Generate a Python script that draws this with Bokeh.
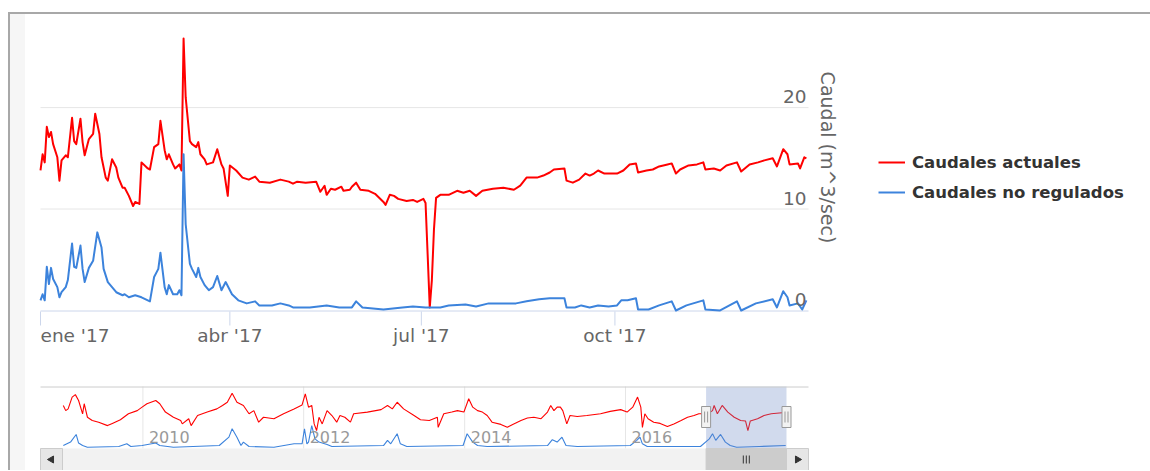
import math
import pandas as pd
from bokeh.plotting import figure
from bokeh.models import Range1d, Label, Legend, LegendItem
from bokeh.layouts import column
from bokeh.embed import file_html
from bokeh.resources import INLINE

# ---------------- data ----------------
base_date = "2017-01-01"
red_days = [0, 1, 2, 3, 4, 5, 6, 8, 9, 10, 12, 13, 15, 16, 17, 19, 20, 21, 23, 25, 26, 28, 29, 31, 32, 34, 36, 37, 39, 40,
            42, 44, 45, 47, 48, 51, 52, 54, 56, 57, 59, 60, 61, 63, 64, 66, 67, 68, 69, 71, 72, 74, 75, 76, 78, 79, 82, 84, 86, 87,
            89, 90, 93, 96, 99, 102, 104, 109, 114, 118, 120, 122, 126, 131, 133, 135, 136, 138, 140, 143, 144, 147, 148, 150, 152, 156, 159, 163, 164, 166,
            168, 170, 174, 177, 179, 182, 183, 184, 185, 186, 187, 188, 190, 194, 198, 201, 204, 207, 210, 215, 220, 225, 228, 231, 236, 239, 242, 244, 249, 250,
            253, 256, 259, 261, 263, 265, 268, 271, 274, 277, 280, 283, 284, 288, 291, 294, 298, 300, 302, 304, 308, 312, 315, 316, 320, 323, 326, 331, 333, 337,
            341, 344, 348, 350, 353, 355, 356, 360, 361, 363, 364]
red_vals = [13.8, 15.4, 14.6, 18.1, 17.1, 17.6, 16.4, 15.1, 12.8, 14.8, 15.3, 15.1, 19.0, 16.7, 16.4, 18.9, 16.6, 15.3, 16.9, 17.4, 19.4, 17.4, 15.1, 13.1, 12.8, 14.9, 14.1, 13.1, 12.1, 12.1,
            11.3, 10.3, 10.7, 10.5, 14.6, 14.0, 13.9, 16.1, 16.4, 18.7, 15.8, 14.9, 15.4, 14.4, 14.0, 14.4, 13.8, 26.8, 21.0, 16.7, 16.4, 16.1, 16.6, 15.4, 14.9, 14.4, 14.6, 15.9, 14.4, 14.0,
            11.3, 14.3, 13.8, 13.1, 12.9, 13.2, 12.7, 12.6, 12.9, 12.7, 12.5, 12.7, 12.6, 12.7, 11.7, 12.3, 11.4, 12.0, 11.9, 12.2, 11.8, 11.9, 12.2, 12.6, 11.9, 11.8, 11.5, 10.7, 10.4, 11.4,
            11.3, 11.0, 10.8, 10.9, 10.7, 11.0, 10.6, 5.5, 0.3, 3.0, 8.0, 11.1, 11.4, 11.4, 11.8, 11.6, 11.8, 11.3, 11.8, 12.0, 12.1, 11.9, 12.3, 13.1, 13.1, 13.3, 13.6, 13.9, 14.0, 12.8,
            12.6, 12.9, 13.5, 13.3, 13.5, 13.8, 13.5, 13.5, 13.5, 13.8, 14.4, 14.5, 13.6, 13.8, 13.9, 14.2, 14.4, 14.5, 13.5, 13.9, 14.3, 14.4, 14.6, 13.9, 14.0, 13.8, 14.3, 14.6, 13.7, 14.4,
            14.6, 14.8, 15.0, 14.2, 15.9, 15.4, 14.4, 14.5, 14.0, 15.1, 15.0]

blue_days = [0, 1, 2, 3, 4, 5, 6, 8, 9, 10, 12, 13, 15, 16, 17, 19, 20, 21, 23, 25, 27, 29, 30, 32, 34, 36, 39, 40, 42, 45,
             48, 52, 54, 56, 57, 59, 60, 61, 63, 65, 66, 67, 68, 69, 71, 72, 74, 75, 76, 78, 80, 82, 84, 86, 88, 91, 94, 98, 102, 104,
             110, 114, 118, 120, 128, 136, 142, 148, 150, 153, 163, 172, 177, 183, 190, 194, 202, 207, 213, 220, 226, 231, 237, 242, 249, 250, 254, 257, 261, 265,
             270, 274, 276, 279, 283, 284, 289, 294, 300, 302, 307, 315, 316, 323, 331, 333, 340, 348, 350, 353, 355, 356, 360, 362, 364]
blue_vals = [1.0, 1.6, 1.0, 4.3, 2.6, 4.2, 3.1, 2.3, 1.3, 1.8, 2.3, 3.0, 6.6, 4.3, 4.2, 6.4, 4.1, 2.8, 4.2, 4.9, 7.7, 6.2, 4.1, 2.8, 2.3, 1.8, 1.5, 1.6, 1.3, 1.5,
             1.3, 0.9, 3.3, 4.1, 5.7, 2.3, 1.6, 2.5, 1.6, 1.6, 2.0, 1.5, 15.4, 8.5, 4.6, 4.1, 3.3, 4.2, 3.3, 2.5, 2.0, 2.3, 3.4, 2.0, 2.8, 1.6, 1.0, 0.7, 0.9, 0.5,
             0.5, 0.7, 0.5, 0.3, 0.3, 0.5, 0.3, 0.3, 0.9, 0.3, 0.1, 0.3, 0.4, 0.3, 0.3, 0.5, 0.6, 0.4, 0.7, 0.7, 0.7, 0.9, 1.1, 1.2, 1.2, 0.3, 0.3, 0.5, 0.3, 0.5,
             0.4, 0.5, 1.0, 1.0, 1.2, 0.1, 0.1, 0.5, 0.9, 0.0, 0.5, 1.0, 0.1, 0.0, 0.9, 0.0, 0.7, 1.1, 0.3, 1.9, 1.3, 0.5, 0.7, 0.1, 1.0]

series_names = ["Caudales actuales", "Caudales no regulados"]
axis_title = "Caudal (m^3/sec)"
month_ticks = ["2017-01-01", "2017-04-01", "2017-07-01", "2017-10-01"]
month_labels = ["ene '17", "abr '17", "jul '17", "oct '17"]
y_ticks = [0, 10, 20]
y_labels = ["0", "10", "20"]

# navigator (grouped overview 2009-2017), decimal years
nav_red_years = [2009.01, 2009.04, 2009.07, 2009.12, 2009.16, 2009.20, 2009.25, 2009.27, 2009.31, 2009.37, 2009.45, 2009.56, 2009.62, 2009.72, 2009.82, 2009.93, 2009.99,
                 2010.05, 2010.16, 2010.21, 2010.28, 2010.38, 2010.47, 2010.49, 2010.57, 2010.60, 2010.68, 2010.80, 2010.92, 2010.99,
                 2011.05, 2011.11, 2011.17, 2011.25, 2011.32, 2011.38, 2011.44, 2011.50, 2011.63, 2011.75, 2011.88, 2011.98,
                 2012.02, 2012.06, 2012.10, 2012.13, 2012.16, 2012.19, 2012.23, 2012.29, 2012.35, 2012.41, 2012.45, 2012.51, 2012.58, 2012.62, 2012.79, 2012.96,
                 2013.04, 2013.10, 2013.16, 2013.24, 2013.37, 2013.45, 2013.56, 2013.66, 2013.67, 2013.74, 2013.84, 2013.91, 2013.99,
                 2014.05, 2014.10, 2014.16, 2014.22, 2014.28, 2014.34, 2014.45, 2014.53, 2014.61, 2014.70, 2014.78, 2014.86, 2014.95,
                 2015.03, 2015.07, 2015.11, 2015.15, 2015.19, 2015.22, 2015.27, 2015.31, 2015.40, 2015.52, 2015.69, 2015.81, 2015.94,
                 2016.02, 2016.09, 2016.15, 2016.19, 2016.21, 2016.24, 2016.28, 2016.35, 2016.43, 2016.52, 2016.60, 2016.69, 2016.77, 2016.85, 2016.91,
                 2017.02, 2017.08, 2017.10, 2017.14, 2017.20, 2017.27, 2017.35, 2017.43, 2017.49, 2017.52, 2017.55, 2017.64, 2017.72, 2017.81, 2017.91, 2017.99]
nav_red_vals = [17.3, 15.2, 15.9, 20.7, 21.7, 19.3, 13.9, 18.0, 12.5, 11.2, 10.5, 9.1, 10.0, 11.5, 13.9, 15.2, 16.6,
                18.0, 19.3, 18.0, 14.6, 12.5, 11.2, 9.8, 11.9, 9.1, 13.2, 14.6, 15.9, 17.3,
                18.6, 22.3, 18.6, 17.3, 13.9, 15.2, 10.5, 12.5, 11.9, 13.9, 15.9, 17.5,
                22.0, 16.6, 17.3, 9.8, 7.1, 12.5, 9.8, 15.2, 13.2, 10.5, 13.2, 12.5, 10.5, 13.9, 14.6, 15.6,
                17.3, 15.9, 18.6, 15.9, 13.2, 11.5, 11.2, 12.5, 8.4, 13.9, 14.6, 15.2, 14.6,
                20.0, 16.6, 15.2, 14.6, 13.2, 10.5, 9.6, 8.4, 9.8, 11.2, 12.2, 12.5, 11.9,
                14.6, 17.3, 15.2, 16.6, 16.6, 15.2, 9.8, 13.2, 12.8, 13.2, 13.9, 14.9, 15.6,
                14.6, 16.6, 20.7, 16.6, 8.4, 13.9, 11.9, 10.5, 10.0, 8.7, 9.8, 11.2, 12.5, 13.2, 13.9,
                13.9, 15.2, 17.3, 13.9, 17.3, 14.6, 12.5, 11.2, 11.0, 7.1, 11.0, 11.9, 13.2, 13.9, 14.2, 14.4]
nav_blue_years = [2009.01, 2009.10, 2009.17, 2009.20, 2009.25, 2009.31, 2009.70, 2009.80, 2009.85, 2009.99,
                  2010.16, 2010.21, 2010.38, 2010.95, 2011.07, 2011.11, 2011.17, 2011.22, 2011.25, 2011.32, 2011.63, 2011.88, 2011.98,
                  2012.01, 2012.04, 2012.06, 2012.10, 2012.14, 2012.19, 2012.29, 2012.35, 2012.99,
                  2013.04, 2013.08, 2013.16, 2013.20, 2013.28, 2013.98, 2014.03, 2014.10, 2014.16, 2014.28,
                  2015.03, 2015.09, 2015.15, 2015.21, 2015.26, 2015.40, 2016.06, 2016.14, 2016.18, 2016.21, 2016.27, 2016.93,
                  2017.04, 2017.08, 2017.12, 2017.18, 2017.24, 2017.30, 2017.38, 2017.66, 2017.99]
nav_blue_vals = [1.0, 2.4, 5.5, 2.0, 1.0, 0.3, 0.6, 1.7, 0.6, 1.0,
                 2.0, 1.0, 0.3, 1.0, 4.4, 7.8, 4.4, 1.0, 2.4, 0.6, 0.3, 1.7, 1.7,
                 7.8, 1.7, 2.4, 9.1, 3.7, 2.4, 1.4, 0.6, 1.0,
                 3.1, 1.7, 5.8, 1.7, 0.6, 1.0, 5.8, 2.4, 1.0, 0.6,
                 1.0, 3.4, 2.4, 4.4, 1.0, 0.6, 1.0, 3.1, 4.4, 1.7, 0.6, 0.6,
                 3.7, 5.8, 3.1, 5.5, 2.4, 1.0, 0.3, 0.6, 1.0]
nav_years = ["2010-01-01", "2012-01-01", "2014-01-01", "2016-01-01"]
nav_year_labels = ["2010", "2012", "2014", "2016"]
nav_start, nav_end = "2009-01-01", "2018-01-01"
sel_start, sel_end = "2017-01-01", "2018-01-01"

# ---------------- helpers ----------------
def ms(d):
    return pd.Timestamp(d).value / 1e6

def dec_year(y):
    yr = int(y)
    a = pd.Timestamp(f"{yr}-01-01")
    b = pd.Timestamp(f"{yr + 1}-01-01")
    return (a + (b - a) * (y - yr)).value / 1e6

day_ms = 86400000.0
T0 = ms(base_date)
T1 = ms("2018-01-01")
red_x = [T0 + d * day_ms for d in red_days]
blue_x = [T0 + d * day_ms for d in blue_days]

FONT = "DejaVu Sans"
RED = "#ff0000"
BLUE = "#3c83dc"
GRID = "#e6e6e6"
AXIS = "#ccd6eb"

# page geometry (the whole canvas is the frame; positions in page pixels)
CX, CY = 10, 14          # top-left of the first canvas on the page
W = 1140
H1 = 366
H2 = 90
FR_L, FR_R, FR_T, FR_B = 40, 808, 30, 311     # plot area of the main chart

# ---------------- main chart ----------------
mpp = (T1 - T0) / (FR_R - FR_L)               # ms per pixel
Y0, Y1 = -0.1, 27.6
ppu = (FR_B - FR_T) / (Y1 - Y0)

def main_x(px):
    return T0 + (px - FR_L) * mpp

def main_y(py):
    return Y0 + (FR_B - py) / ppu

def main_py(v):
    return FR_B - (v - Y0) * ppu

p = figure(width=W, height=H1, x_axis_type="datetime",
           x_range=Range1d(main_x(CX), main_x(CX + W)), y_range=Range1d(main_y(CY + H1), main_y(CY)),
           x_axis_location=None, y_axis_location=None, output_backend="svg", toolbar_location=None,
           min_border=0, min_border_left=0, min_border_right=0, min_border_top=0, min_border_bottom=0)
p.border_fill_color = None
p.background_fill_color = None
p.outline_line_color = None
p.grid.visible = False

# plot-area background, gridlines, axis line and ticks
p.quad(left=[T0], right=[T1], bottom=[main_y(FR_B)], top=[main_y(FR_T - 16)], fill_color="white", line_color=None)
gy = [t for t in y_ticks if t > 0]
p.segment(x0=[T0] * len(gy), x1=[T1] * len(gy), y0=gy, y1=gy, line_color=GRID, line_width=1)
tick_x = [ms(d) for d in month_ticks]
p.segment(x0=tick_x, x1=tick_x, y0=[main_y(FR_B)] * 4, y1=[main_y(FR_B + 14)] * 4, line_color=AXIS, line_width=1)
p.segment(x0=[T0], x1=[T1], y0=[main_y(FR_B - 0.5)], y1=[main_y(FR_B - 0.5)], line_color=AXIS, line_width=1)

r_red = p.line(red_x, red_vals, line_color=RED, line_width=2, line_join="round")
r_blue = p.line(blue_x, blue_vals, line_color=BLUE, line_width=2, line_join="round")

for tx, lab, al in zip(tick_x, month_labels, ["left", "center", "center", "center"]):
    p.add_layout(Label(x=tx, y=main_y(335), text=lab, text_align=al, text_baseline="middle",
                       text_font=FONT, text_font_size="18.5px", text_color="#666666"))

for v, lab in zip(y_ticks, y_labels):
    p.add_layout(Label(x=T1 - 2 * mpp, y=main_y(main_py(v) - 11), text=lab, text_align="right",
                       text_baseline="middle", text_font=FONT, text_font_size="18.5px", text_color="#666666"))

p.add_layout(Label(x=main_x(827), y=main_y(157), text=axis_title, angle=-math.pi / 2,
                   text_align="center", text_baseline="middle", text_font=FONT,
                   text_font_size="19px", text_color="#666666"))

legend = Legend(items=[LegendItem(label=series_names[0], renderers=[r_red]),
                       LegendItem(label=series_names[1], renderers=[r_blue])],
                location=(878 - CX, (CY + H1) - 202), orientation="vertical",
                padding=0, margin=0, spacing=10, glyph_width=27, glyph_height=20,
                label_height=20, label_standoff=7,
                label_text_font=FONT, label_text_font_size="16.5px", label_text_font_style="bold",
                label_text_color="#333333", border_line_color=None, background_fill_alpha=0)
p.add_layout(legend)

# ---------------- navigator + scrollbar ----------------
NCY = CY + H1                          # page y of the navigator canvas top
N0, N1 = ms(nav_start), ms(nav_end)
NL, NR = 62, 786                       # page px of navigator data span
nmpp = (N1 - N0) / (NR - NL)
NZERO, NPPU = 447.5, 2.46
NTOP, NBOTTOM = 386, 448               # navigator area
SB_T, SB_B = 448, NCY + H2             # scrollbar band

def nx(px):
    return N0 + (px - NL) * nmpp

def ny(py):
    return (NZERO - py) / NPPU

nav = figure(width=W, height=H2, x_axis_type="datetime",
             x_range=Range1d(nx(CX), nx(CX + W)), y_range=Range1d(ny(NCY + H2), ny(NCY)),
             x_axis_location=None, y_axis_location=None,
             output_backend="svg", toolbar_location=None,
             min_border=0, min_border_left=0, min_border_right=0, min_border_top=0, min_border_bottom=0)
nav.border_fill_color = None
nav.background_fill_color = None
nav.outline_line_color = None
nav.grid.visible = False

nav.quad(left=[nx(FR_L)], right=[nx(FR_R)], bottom=[ny(NBOTTOM)], top=[ny(NTOP)], fill_color="white", line_color=None)
yx = [ms(d) for d in nav_years]
nav.segment(x0=yx, x1=yx, y0=[ny(NTOP)] * len(yx), y1=[ny(NBOTTOM)] * len(yx), line_color=GRID, line_width=1)

nav.line([dec_year(y) for y in nav_red_years], nav_red_vals, line_color=RED, line_width=1.1)
nav.line([dec_year(y) for y in nav_blue_years], nav_blue_vals, line_color=BLUE, line_width=1.1)

S, E = ms(sel_start), ms(sel_end)
nav.quad(left=[S], right=[E], bottom=[ny(NBOTTOM)], top=[ny(NTOP)], fill_color="#6685c2", fill_alpha=0.3, line_color=None)
nav.segment(x0=[nx(FR_L)], x1=[nx(FR_R)], y0=[ny(NTOP + 0.5)], y1=[ny(NTOP + 0.5)], line_color="#cccccc", line_width=1)

for d, lab in zip(yx, nav_year_labels):
    nav.add_layout(Label(x=d + 6 * nmpp, y=ny(436.5), text=lab, text_align="left", text_baseline="middle",
                         text_font=FONT, text_font_size="16px", text_color="#999999"))

# handles
nav.rect(x=[S, E], y=[ny(416.5), ny(416.5)], width=9, height=21, width_units="screen", height_units="screen",
         fill_color="#f2f2f2", line_color="#999999", line_width=1)
hx = [S - 1.5 * nmpp, S + 1.5 * nmpp, E - 1.5 * nmpp, E + 1.5 * nmpp]
nav.segment(x0=hx, x1=hx, y0=[ny(411)] * 4, y1=[ny(422)] * 4, line_color="#999999", line_width=1)

# scrollbar
nav.quad(left=[nx(FR_L)], right=[nx(FR_R)], bottom=[ny(SB_B)], top=[ny(SB_T)], fill_color="#f2f2f2", line_color=None)
nav.quad(left=[nx(FR_L), N1], right=[N0, nx(FR_R)], bottom=[ny(SB_B)] * 2, top=[ny(SB_T)] * 2,
         fill_color="#e6e6e6", line_color="#cccccc", line_width=1)
nav.quad(left=[S], right=[E], bottom=[ny(SB_B)], top=[ny(SB_T)], fill_color="#cccccc", line_color="#cccccc")
sb_mid = (SB_T + SB_B) / 2
nav.scatter(x=[(nx(FR_L) + N0) / 2, (N1 + nx(FR_R)) / 2], y=[ny(sb_mid)] * 2, marker="triangle",
            angle=[math.pi / 2, -math.pi / 2], size=7, fill_color="#333333", line_color="#333333")
xc = (S + E) / 2
rx = [xc - 3 * nmpp, xc, xc + 3 * nmpp]
nav.segment(x0=rx, x1=rx, y0=[ny(sb_mid - 4)] * 3, y1=[ny(sb_mid + 4)] * 3, line_color="#333333", line_width=1)

layout = column(p, nav, margin=(12, 0, 0, 8), spacing=0,
                styles={"border-top": "2px solid #a8a8a8", "border-left": "2px solid #a8a8a8",
                        "background": "linear-gradient(to right, #f6f6f6 0px, #f6f6f6 15px, #ffffff 15px)"})

open("out.html", "w").write(file_html(layout, INLINE))
